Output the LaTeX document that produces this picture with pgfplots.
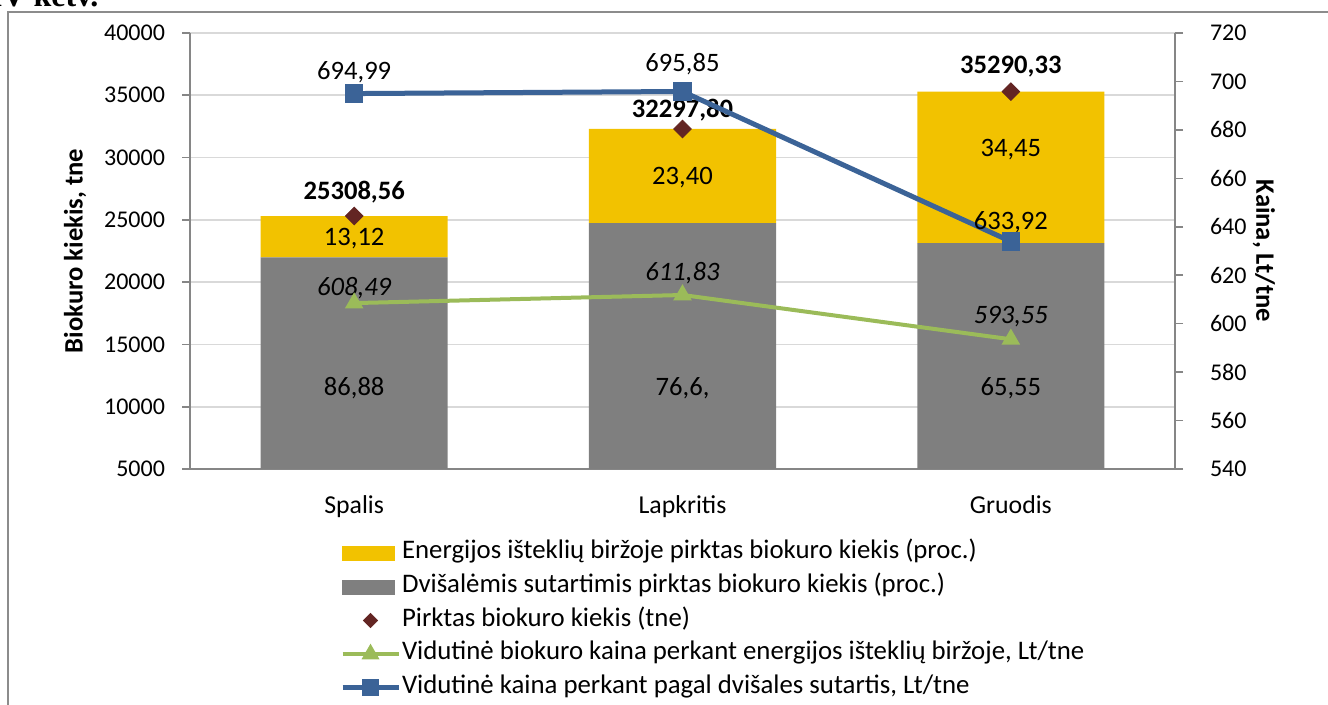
\documentclass[border=0pt]{standalone}
\usepackage{fontspec}
\setmainfont{Carlito}
\newfontfamily\timesb{Liberation Serif}
\usepackage{pgfplots}
\pgfplotsset{compat=1.18}
\definecolor{cyel}{HTML}{F2C200}
\definecolor{cgray}{HTML}{7F7F7F}
\definecolor{cdia}{HTML}{632523}
\definecolor{cgreen}{HTML}{9BBB59}
\definecolor{cblue}{HTML}{3B6397}
\definecolor{caxis}{HTML}{868686}
\definecolor{cgrid}{HTML}{D9D9D9}
\definecolor{cframe}{HTML}{8C8C8C}
\tikzset{
  lab/.style={font=\fontsize{13.3}{15}\selectfont},
  labb/.style={font=\bfseries\fontsize{13.3}{15}\selectfont},
  labi/.style={font=\itshape\fontsize{13.3}{15}\selectfont},
}
\begin{document}
\begin{tikzpicture}
\path[use as bounding box] (0,0) rectangle (664pt,352.5pt);
\begin{scope}
\clip (0,0) rectangle (664pt,352.5pt);
\node[anchor=base west, inner sep=0pt, font=\timesb\bfseries\fontsize{16}{18}\selectfont] at (-5.2pt,349pt) {IV ketv.};
\end{scope}
\draw[color=cframe, line width=0.8pt] (4pt,-2pt) -- (4pt,346.6pt) -- (666pt,346.6pt);
\pgfplotsset{
  common/.style={
    at={(95pt,118pt)}, anchor=south west, scale only axis,
    width=492.5pt, height=218pt,
    xmin=-0.5, xmax=2.5,
    axis line style={color=caxis, line width=0.8pt},
    tick style={color=caxis, line width=0.8pt},
    major tick length=4pt, tick align=outside,
    tick label style={font=\fontsize{12}{14}\selectfont},
    /pgf/number format/assume math mode=true,
    /pgf/number format/1000 sep={},
    scaled y ticks=false,
    clip=false,
  },
}
% bars (stacked) on the left axis
\begin{axis}[common,
  ymin=5000, ymax=40000,
  ytick={5000,10000,...,40000},
  axis x line*=bottom, axis y line*=left,
  ymajorgrids, grid style={color=cgrid, line width=0.8pt},
  xtick={0,1,2}, xticklabels={Spalis,Lapkritis,Gruodis},
  xtick style={draw=none},
  xticklabel style={font=\fontsize{12.9}{15}\selectfont, yshift=-6pt},
  yticklabel style={xshift=-5pt},
  ybar stacked, bar width=0.57,
]
\addplot[fill=cgray, draw=none] coordinates {(0,21988.1) (1,24740.1) (2,23132.8)};
\addplot[fill=cyel, draw=none] coordinates {(0,3320.46) (1,7557.70) (2,12157.53)};
\end{axis}
% totals (diamonds) and bar labels on the left scale
\begin{axis}[common,
  ymin=5000, ymax=40000,
  axis lines=none,
]
\addplot[only marks, mark=square*, mark size=3.1pt, mark options={rotate=45}, color=cdia] coordinates {(0,25308.56) (1,32297.80) (2,35290.33)};
\node[labb] at (axis cs:0,27236) {25308,56};
\node[labb] at (axis cs:1,33819) {32297,80};
\node[labb] at (axis cs:2,37271) {35290,33};
\node[lab] at (axis cs:0,23463) {13,12};
\node[lab] at (axis cs:1,28360) {23,40};
\node[lab] at (axis cs:2,30608) {34,45};
\node[lab] at (axis cs:0,11502) {86,88};
\node[lab] at (axis cs:1,11502) {76,6,};
\node[lab] at (axis cs:2,11502) {65,55};
\end{axis}
% prices on the right axis
\begin{axis}[common,
  ymin=540, ymax=720,
  ytick={540,560,...,720},
  axis y line*=right, axis x line=none,
  yticklabel style={xshift=10pt},
  legend image code/.code={\draw[mark repeat=2,mark phase=2,#1] plot coordinates {(0pt,0pt) (14pt,0pt) (28pt,0pt)};},
  legend style={draw=none, fill=none, at={(0.1523,-0.167)}, anchor=north west,
    inner sep=0pt, outer sep=0pt, row sep=5.3pt, column sep=0.5pt,
    font=\fontsize{13.4}{15}\selectfont,
    nodes={inner sep=0pt, text height=8.5pt, text depth=3pt}},
  legend cell align=left,
]
\addlegendimage{legend image code/.code={\fill[cyel] (0pt,-3.5pt) rectangle (26pt,3.5pt);}}
\addlegendentry{Energijos išteklių biržoje pirktas biokuro kiekis (proc.)}
\addlegendimage{legend image code/.code={\fill[cgray] (0pt,-3.5pt) rectangle (26pt,3.5pt);}}
\addlegendentry{Dvišalėmis sutartimis pirktas biokuro kiekis (proc.)}
\addlegendimage{only marks, mark=square*, mark size=2.5pt, mark options={rotate=45}, color=cdia}
\addlegendentry{Pirktas biokuro kiekis (tne)}
\addlegendimage{color=cgreen, line width=2.2pt, mark=triangle*, mark size=3pt, mark options={solid}}
\addlegendentry{Vidutinė biokuro kaina perkant energijos išteklių biržoje, Lt/tne}
\addlegendimage{color=cblue, line width=2.5pt, mark=square*, mark size=3pt, mark options={solid}}
\addlegendentry{Vidutinė kaina perkant pagal dvišales sutartis, Lt/tne}
\addplot[forget plot, color=cgreen, line width=2pt, mark=triangle*, mark size=3.4pt, mark options={solid}] coordinates {(0,608.49) (1,611.83) (2,593.55)};
\addplot[forget plot, color=cblue, line width=2.5pt, mark=square*, mark size=3.4pt, mark options={solid}] coordinates {(0,694.99) (1,695.85) (2,633.92)};
\node[lab] at (axis cs:0,703.9) {694,99};
\node[lab] at (axis cs:1,707.2) {695,85};
\node[lab] at (axis cs:2,642.0) {633,92};
\node[labi] at (axis cs:0,614.7) {608,49};
\node[labi] at (axis cs:1,620.9) {611,83};
\node[labi] at (axis cs:2,602.8) {593,55};
\end{axis}
\node[rotate=90, font=\bfseries\fontsize{13.3}{15}\selectfont] at (37.5pt,227pt) {Biokuro kiekis, tne};
\node[rotate=-90, font=\bfseries\fontsize{13.3}{15}\selectfont] at (632pt,227pt) {Kaina, Lt/tne};
\end{tikzpicture}
\end{document}
